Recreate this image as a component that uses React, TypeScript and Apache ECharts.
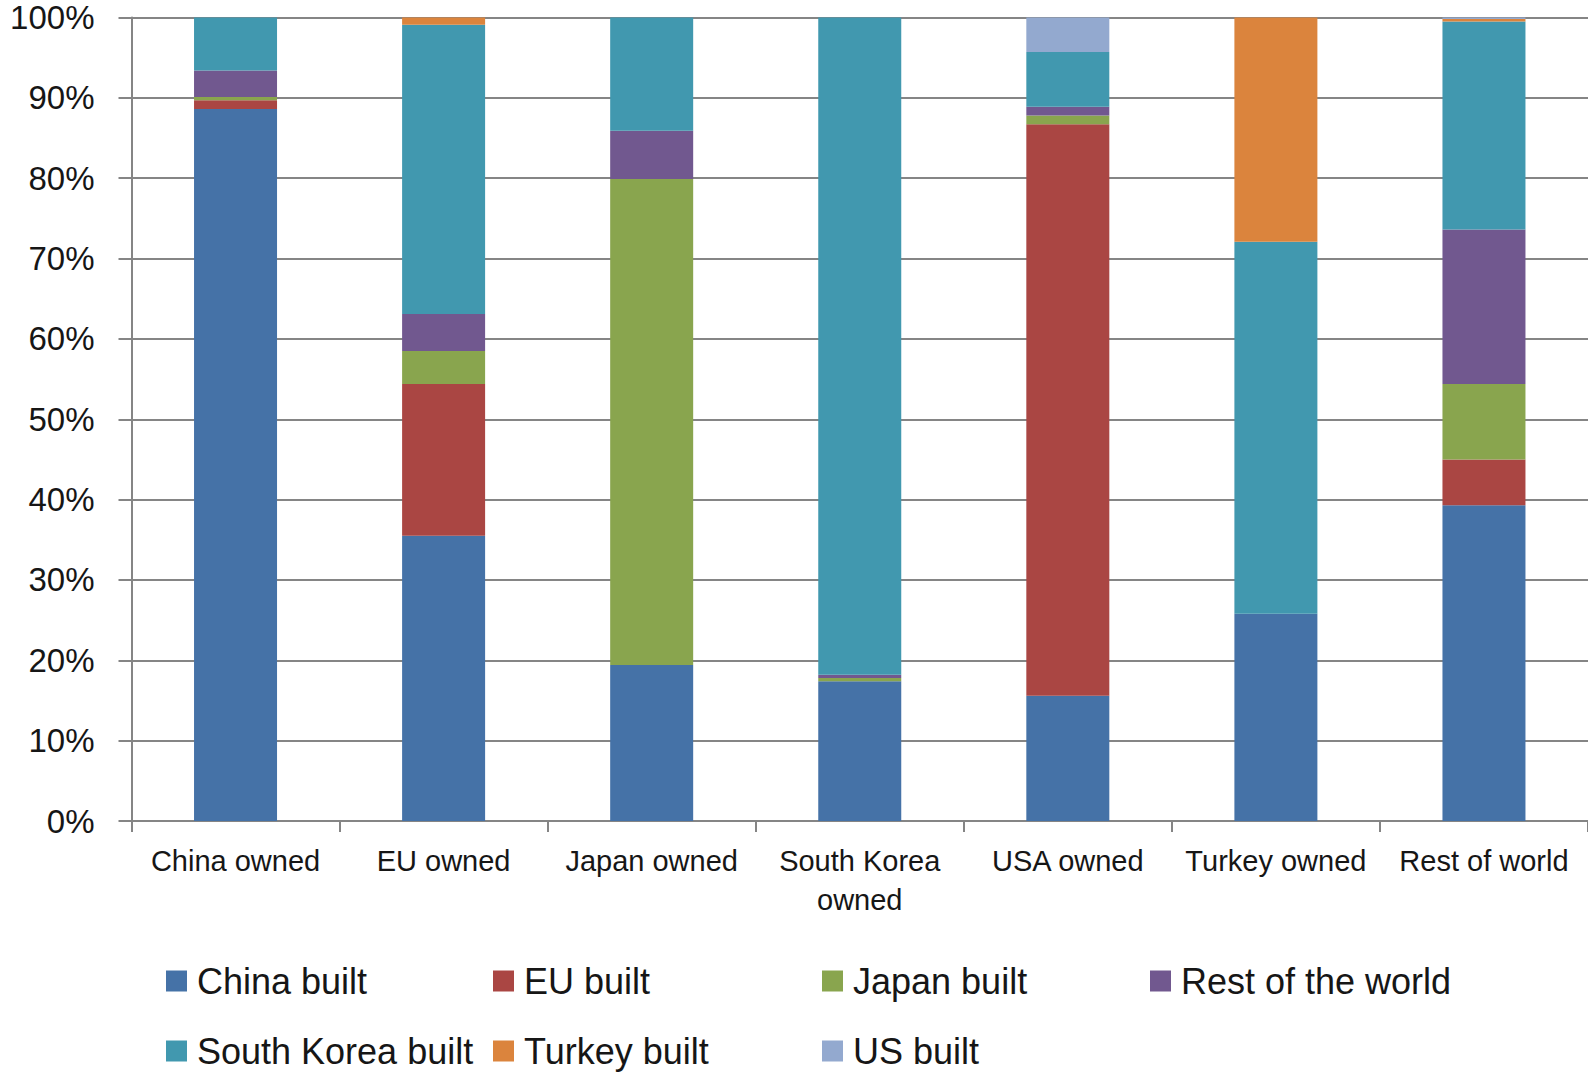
import React, { useEffect, useRef } from "react";
import * as echarts from "echarts";

// Ship ownership (categories) broken down by where the ships were built, in percent.
const CATEGORIES = [
  "China owned",
  "EU owned",
  "Japan owned",
  "South Korea\nowned",
  "USA owned",
  "Turkey owned",
  "Rest of world",
];

const SERIES_NAMES = [
  "China built",
  "EU built",
  "Japan built",
  "Rest of the world",
  "South Korea built",
  "Turkey built",
  "US built",
];

const CHINA_BUILT = [88.6, 35.5, 19.4, 17.4, 15.6, 25.8, 39.3];
const EU_BUILT = [1.1, 18.9, 0, 0, 71.1, 0, 5.7];
const JAPAN_BUILT = [0.4, 4.1, 60.5, 0.4, 1.1, 0, 9.4];
const REST_OF_WORLD_BUILT = [3.3, 4.6, 6.0, 0.4, 1.1, 0, 19.2];
const SOUTH_KOREA_BUILT = [6.6, 36.0, 14.1, 81.8, 6.8, 46.3, 25.9];
const TURKEY_BUILT = [0, 0.9, 0, 0, 0, 27.9, 0.3];
const US_BUILT = [0, 0, 0, 0, 4.3, 0, 0.2];

const SERIES_VALUES = [
  CHINA_BUILT,
  EU_BUILT,
  JAPAN_BUILT,
  REST_OF_WORLD_BUILT,
  SOUTH_KOREA_BUILT,
  TURKEY_BUILT,
  US_BUILT,
];

const COLORS = [
  "#4572A7",
  "#AA4643",
  "#89A54E",
  "#71588F",
  "#4198AF",
  "#DB843D",
  "#93A9CF",
];

const Y_TICKS = [0, 10, 20, 30, 40, 50, 60, 70, 80, 90, 100];

const FONT = "'Liberation Sans', Arial, sans-serif";
const TEXT_COLOR = "#161616";
const AXIS_GRAY = "#858585";

// Legend laid out as a 4-column grid of swatches.
const LEGEND_COLUMNS_X = [166, 493, 822, 1150];
const LEGEND_ROWS_TOP = [963, 1033];

export default function App() {
  const ref = useRef<HTMLDivElement>(null);

  useEffect(() => {
    if (!ref.current) return;
    const chart = echarts.init(ref.current, null, { renderer: "svg" });

    const legends = SERIES_NAMES.map((name, i) => ({
      data: [name],
      left: LEGEND_COLUMNS_X[i % 4],
      top: LEGEND_ROWS_TOP[Math.floor(i / 4)],
      padding: 0,
      itemGap: 0,
      itemWidth: 21,
      itemHeight: 21,
      icon: "rect",
      selectedMode: false,
      textStyle: {
        fontFamily: FONT,
        fontSize: 36,
        lineHeight: 36,
        color: TEXT_COLOR,
        padding: [0, 0, 0, 5],
      },
    }));

    chart.setOption({
      animation: false,
      backgroundColor: "#ffffff",
      color: COLORS,
      grid: { left: 131.5, top: 17.5, width: 1460, height: 803.5 },
      legend: legends,
      xAxis: {
        type: "category",
        data: CATEGORIES,
        axisLine: { show: true, lineStyle: { color: AXIS_GRAY, width: 2 } },
        axisTick: { show: true, length: 11, lineStyle: { color: AXIS_GRAY, width: 2 } },
        axisLabel: {
          interval: 0,
          margin: 20,
          fontFamily: FONT,
          fontSize: 29,
          lineHeight: 39,
          color: TEXT_COLOR,
        },
      },
      yAxis: {
        type: "value",
        min: Y_TICKS[0],
        max: Y_TICKS[Y_TICKS.length - 1],
        interval: Y_TICKS[1] - Y_TICKS[0],
        axisLine: { show: true, lineStyle: { color: AXIS_GRAY, width: 2 } },
        axisTick: { show: true, length: 13, lineStyle: { color: AXIS_GRAY, width: 2 } },
        splitLine: { show: true, lineStyle: { color: AXIS_GRAY, width: 2 } },
        axisLabel: {
          formatter: "{value}%",
          margin: 37,
          fontFamily: FONT,
          fontSize: 33,
          color: TEXT_COLOR,
        },
      },
      series: SERIES_NAMES.map((name, i) => ({
        name,
        type: "bar",
        stack: "share",
        barWidth: 83,
        data: SERIES_VALUES[i],
        itemStyle: { color: COLORS[i] },
      })),
    });

    return () => chart.dispose();
  }, []);

  return (
    <div
      ref={ref}
      style={{
        position: "fixed",
        left: 0,
        top: 0,
        width: 1588,
        height: 1074,
        background: "#ffffff",
      }}
    />
  );
}
